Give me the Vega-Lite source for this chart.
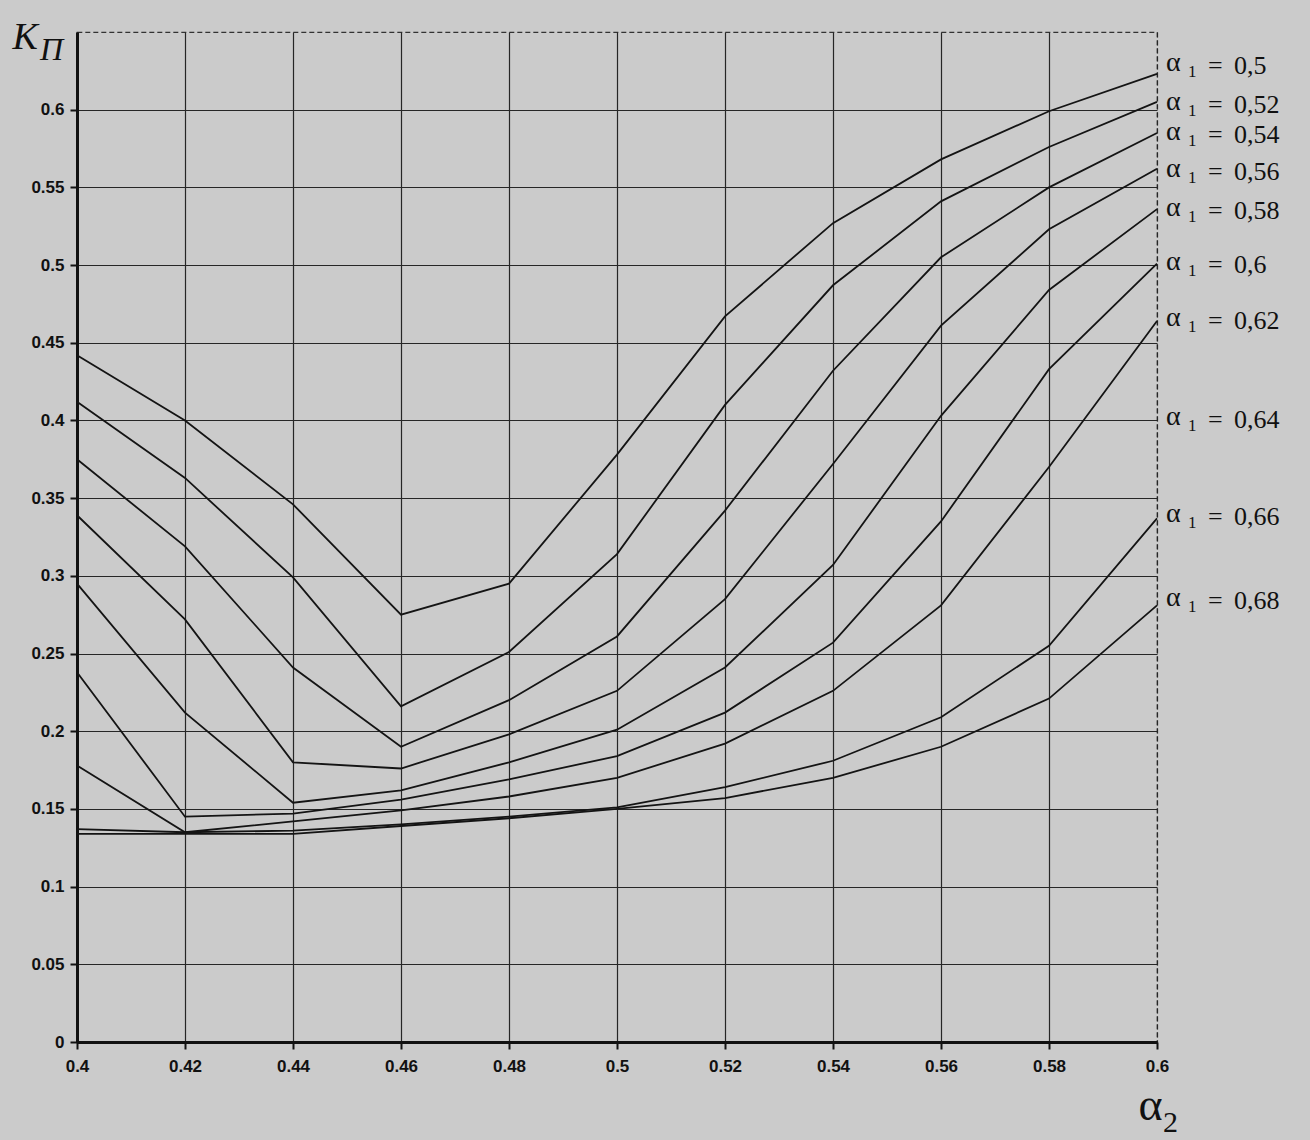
{
  "$schema": "https://vega.github.io/schema/vega-lite/v6.json",
  "width": 1080,
  "height": 1010,
  "autosize": {"type": "none"},
  "padding": {"left": 77, "top": 32, "right": 153, "bottom": 98},
  "background": "#cbcbcb",
  "config": {
    "view": {"stroke": "#333333", "strokeDash": [5, 3], "strokeWidth": 1.2},
    "font": "Liberation Sans"
  },
  "datasets": {
    "curves": [
      {"a1": "0,5", "a2": 0.40, "k": 0.442}, {"a1": "0,5", "a2": 0.42, "k": 0.400}, {"a1": "0,5", "a2": 0.44, "k": 0.346}, {"a1": "0,5", "a2": 0.46, "k": 0.275}, {"a1": "0,5", "a2": 0.48, "k": 0.295}, {"a1": "0,5", "a2": 0.50, "k": 0.378}, {"a1": "0,5", "a2": 0.52, "k": 0.467}, {"a1": "0,5", "a2": 0.54, "k": 0.527}, {"a1": "0,5", "a2": 0.56, "k": 0.568}, {"a1": "0,5", "a2": 0.58, "k": 0.599}, {"a1": "0,5", "a2": 0.60, "k": 0.623},
      {"a1": "0,52", "a2": 0.40, "k": 0.412}, {"a1": "0,52", "a2": 0.42, "k": 0.363}, {"a1": "0,52", "a2": 0.44, "k": 0.299}, {"a1": "0,52", "a2": 0.46, "k": 0.216}, {"a1": "0,52", "a2": 0.48, "k": 0.251}, {"a1": "0,52", "a2": 0.50, "k": 0.314}, {"a1": "0,52", "a2": 0.52, "k": 0.410}, {"a1": "0,52", "a2": 0.54, "k": 0.487}, {"a1": "0,52", "a2": 0.56, "k": 0.541}, {"a1": "0,52", "a2": 0.58, "k": 0.576}, {"a1": "0,52", "a2": 0.60, "k": 0.605},
      {"a1": "0,54", "a2": 0.40, "k": 0.375}, {"a1": "0,54", "a2": 0.42, "k": 0.319}, {"a1": "0,54", "a2": 0.44, "k": 0.241}, {"a1": "0,54", "a2": 0.46, "k": 0.190}, {"a1": "0,54", "a2": 0.48, "k": 0.220}, {"a1": "0,54", "a2": 0.50, "k": 0.261}, {"a1": "0,54", "a2": 0.52, "k": 0.342}, {"a1": "0,54", "a2": 0.54, "k": 0.432}, {"a1": "0,54", "a2": 0.56, "k": 0.505}, {"a1": "0,54", "a2": 0.58, "k": 0.550}, {"a1": "0,54", "a2": 0.60, "k": 0.585},
      {"a1": "0,56", "a2": 0.40, "k": 0.339}, {"a1": "0,56", "a2": 0.42, "k": 0.272}, {"a1": "0,56", "a2": 0.44, "k": 0.180}, {"a1": "0,56", "a2": 0.46, "k": 0.176}, {"a1": "0,56", "a2": 0.48, "k": 0.198}, {"a1": "0,56", "a2": 0.50, "k": 0.226}, {"a1": "0,56", "a2": 0.52, "k": 0.285}, {"a1": "0,56", "a2": 0.54, "k": 0.372}, {"a1": "0,56", "a2": 0.56, "k": 0.461}, {"a1": "0,56", "a2": 0.58, "k": 0.523}, {"a1": "0,56", "a2": 0.60, "k": 0.562},
      {"a1": "0,58", "a2": 0.40, "k": 0.295}, {"a1": "0,58", "a2": 0.42, "k": 0.212}, {"a1": "0,58", "a2": 0.44, "k": 0.154}, {"a1": "0,58", "a2": 0.46, "k": 0.162}, {"a1": "0,58", "a2": 0.48, "k": 0.180}, {"a1": "0,58", "a2": 0.50, "k": 0.201}, {"a1": "0,58", "a2": 0.52, "k": 0.241}, {"a1": "0,58", "a2": 0.54, "k": 0.307}, {"a1": "0,58", "a2": 0.56, "k": 0.403}, {"a1": "0,58", "a2": 0.58, "k": 0.484}, {"a1": "0,58", "a2": 0.60, "k": 0.536},
      {"a1": "0,6", "a2": 0.40, "k": 0.238}, {"a1": "0,6", "a2": 0.42, "k": 0.145}, {"a1": "0,6", "a2": 0.44, "k": 0.147}, {"a1": "0,6", "a2": 0.46, "k": 0.156}, {"a1": "0,6", "a2": 0.48, "k": 0.169}, {"a1": "0,6", "a2": 0.50, "k": 0.184}, {"a1": "0,6", "a2": 0.52, "k": 0.212}, {"a1": "0,6", "a2": 0.54, "k": 0.257}, {"a1": "0,6", "a2": 0.56, "k": 0.335}, {"a1": "0,6", "a2": 0.58, "k": 0.433}, {"a1": "0,6", "a2": 0.60, "k": 0.501},
      {"a1": "0,62", "a2": 0.40, "k": 0.178}, {"a1": "0,62", "a2": 0.42, "k": 0.135}, {"a1": "0,62", "a2": 0.44, "k": 0.142}, {"a1": "0,62", "a2": 0.46, "k": 0.149}, {"a1": "0,62", "a2": 0.48, "k": 0.158}, {"a1": "0,62", "a2": 0.50, "k": 0.170}, {"a1": "0,62", "a2": 0.52, "k": 0.192}, {"a1": "0,62", "a2": 0.54, "k": 0.226}, {"a1": "0,62", "a2": 0.56, "k": 0.281}, {"a1": "0,62", "a2": 0.58, "k": 0.370}, {"a1": "0,62", "a2": 0.60, "k": 0.464},
      {"a1": "0,66", "a2": 0.40, "k": 0.137}, {"a1": "0,66", "a2": 0.42, "k": 0.135}, {"a1": "0,66", "a2": 0.44, "k": 0.136}, {"a1": "0,66", "a2": 0.46, "k": 0.140}, {"a1": "0,66", "a2": 0.48, "k": 0.145}, {"a1": "0,66", "a2": 0.50, "k": 0.151}, {"a1": "0,66", "a2": 0.52, "k": 0.164}, {"a1": "0,66", "a2": 0.54, "k": 0.181}, {"a1": "0,66", "a2": 0.56, "k": 0.209}, {"a1": "0,66", "a2": 0.58, "k": 0.255}, {"a1": "0,66", "a2": 0.60, "k": 0.337},
      {"a1": "0,68", "a2": 0.40, "k": 0.134}, {"a1": "0,68", "a2": 0.42, "k": 0.134}, {"a1": "0,68", "a2": 0.44, "k": 0.134}, {"a1": "0,68", "a2": 0.46, "k": 0.139}, {"a1": "0,68", "a2": 0.48, "k": 0.144}, {"a1": "0,68", "a2": 0.50, "k": 0.150}, {"a1": "0,68", "a2": 0.52, "k": 0.157}, {"a1": "0,68", "a2": 0.54, "k": 0.170}, {"a1": "0,68", "a2": 0.56, "k": 0.190}, {"a1": "0,68", "a2": 0.58, "k": 0.221}, {"a1": "0,68", "a2": 0.60, "k": 0.281}
    ],
    "labels": [
      {"a1": "0,5", "k": 0.628},
      {"a1": "0,52", "k": 0.603},
      {"a1": "0,54", "k": 0.584},
      {"a1": "0,56", "k": 0.560},
      {"a1": "0,58", "k": 0.535},
      {"a1": "0,6", "k": 0.500},
      {"a1": "0,62", "k": 0.464},
      {"a1": "0,64", "k": 0.400},
      {"a1": "0,66", "k": 0.338},
      {"a1": "0,68", "k": 0.284}
    ]
  },
  "layer": [
    {
      "data": {"name": "curves"},
      "mark": {"type": "line", "color": "#141414", "strokeWidth": 1.8},
      "encoding": {
        "x": {
          "field": "a2",
          "type": "quantitative",
          "scale": {"domain": [0.4, 0.6], "nice": false, "zero": false},
          "axis": {
            "values": [0.4, 0.42, 0.44, 0.46, 0.48, 0.5, 0.52, 0.54, 0.56, 0.58, 0.6],
            "format": "~g",
            "labelFont": "Liberation Sans",
            "labelFontWeight": "bold",
            "labelFontSize": 17,
            "labelColor": "#111111",
            "labelPadding": 9,
            "labelFlush": false,
            "labelOverlap": false,
            "domainColor": "#111111",
            "domainWidth": 3,
            "tickColor": "#111111",
            "tickWidth": 2,
            "tickSize": 7,
            "grid": true,
            "gridColor": "#262626",
            "gridWidth": 1.2,
            "gridOpacity": 1,
            "gridDash": {"condition": {"test": "datum.value >= 0.599", "value": [5, 3]}, "value": []},
            "title": "α",
            "titleFont": "Liberation Serif",
            "titleFontSize": 46,
            "titleFontWeight": "normal",
            "titleColor": "#111111",
            "titleAlign": "left",
            "titleBaseline": "alphabetic",
            "titleX": 1061,
            "titleY": 77
          }
        },
        "y": {
          "field": "k",
          "type": "quantitative",
          "scale": {"domain": [0, 0.65], "nice": false},
          "axis": {
            "values": [0, 0.05, 0.1, 0.15, 0.2, 0.25, 0.3, 0.35, 0.4, 0.45, 0.5, 0.55, 0.6],
            "format": "~g",
            "labelFont": "Liberation Sans",
            "labelFontWeight": "bold",
            "labelFontSize": 17,
            "labelColor": "#111111",
            "labelPadding": 6,
            "labelFlush": false,
            "labelOverlap": false,
            "domainColor": "#111111",
            "domainWidth": 3,
            "tickColor": "#111111",
            "tickWidth": 2,
            "tickSize": 7,
            "grid": true,
            "gridColor": "#262626",
            "gridWidth": 1.2,
            "gridOpacity": 1,
            "title": "K",
            "titleFont": "Liberation Serif",
            "titleFontStyle": "italic",
            "titleFontSize": 38,
            "titleFontWeight": "normal",
            "titleColor": "#111111",
            "titleAngle": 0,
            "titleAlign": "left",
            "titleBaseline": "alphabetic",
            "titleX": -65,
            "titleY": 16
          }
        },
        "detail": {"field": "a1"}
      }
    },
    {
      "data": {"values": [{"t": "Π"}]},
      "mark": {"type": "text", "font": "Liberation Serif", "fontStyle": "italic", "fontSize": 32, "color": "#111111", "align": "left", "baseline": "alphabetic", "dx": -37, "dy": 28},
      "encoding": {
        "x": {"datum": 0.4, "type": "quantitative"},
        "y": {"datum": 0.65, "type": "quantitative"},
        "text": {"field": "t"}
      }
    },
    {
      "data": {"values": [{"t": "2"}]},
      "mark": {"type": "text", "font": "Liberation Serif", "fontSize": 30, "color": "#111111", "align": "left", "baseline": "alphabetic", "dx": 6, "dy": 90},
      "encoding": {
        "x": {"datum": 0.6, "type": "quantitative"},
        "y": {"datum": 0, "type": "quantitative"},
        "text": {"field": "t"}
      }
    },
    {
      "data": {"name": "labels"},
      "mark": {"type": "text", "font": "Liberation Serif", "fontSize": 28, "color": "#111111", "align": "left", "baseline": "middle", "dx": 9, "dy": -3, "text": "α"},
      "encoding": {
        "x": {"datum": 0.6, "type": "quantitative"},
        "y": {"field": "k", "type": "quantitative"}
      }
    },
    {
      "data": {"name": "labels"},
      "mark": {"type": "text", "font": "Liberation Serif", "fontSize": 17, "color": "#111111", "align": "left", "baseline": "middle", "dx": 31, "dy": 6, "text": "1"},
      "encoding": {
        "x": {"datum": 0.6, "type": "quantitative"},
        "y": {"field": "k", "type": "quantitative"}
      }
    },
    {
      "data": {"name": "labels"},
      "mark": {"type": "text", "font": "Liberation Serif", "fontSize": 26, "color": "#111111", "align": "left", "baseline": "middle", "dx": 51, "text": "="},
      "encoding": {
        "x": {"datum": 0.6, "type": "quantitative"},
        "y": {"field": "k", "type": "quantitative"}
      }
    },
    {
      "data": {"name": "labels"},
      "mark": {"type": "text", "font": "Liberation Serif", "fontSize": 26, "color": "#111111", "align": "left", "baseline": "middle", "dx": 77},
      "encoding": {
        "x": {"datum": 0.6, "type": "quantitative"},
        "y": {"field": "k", "type": "quantitative"},
        "text": {"field": "a1"}
      }
    }
  ]
}
